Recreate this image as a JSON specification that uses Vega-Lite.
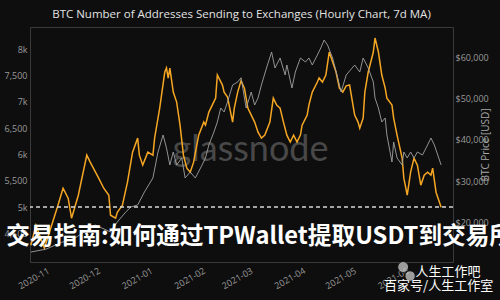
{
  "$schema": "https://vega.github.io/schema/vega-lite/v6.json",
  "width": 423,
  "height": 235,
  "autosize": {"type": "none"},
  "padding": {"left": 30, "top": 27, "right": 47, "bottom": 38},
  "background": "#0e0e0e",
  "title": {"text": "BTC Number of Addresses Sending to Exchanges (Hourly Chart, 7d MA)", "color": "#e2e2e2", "fontSize": 11.5, "font": "Open Sans", "fontWeight": "normal", "offset": 7, "anchor": "middle"},
  "config": {
    "view": {"stroke": "#3a3a3a"},
    "axis": {"grid": false, "ticks": false, "domain": false, "labelColor": "#9a9a9a", "labelFont": "Open Sans", "labelFontSize": 9}
  },
  "datasets": {
    "addr": [
      {"date": "2020-10-23", "addresses": 4274},
      {"date": "2020-10-26", "addresses": 4654},
      {"date": "2020-10-31", "addresses": 4217},
      {"date": "2020-11-08", "addresses": 5034},
      {"date": "2020-11-11", "addresses": 5357},
      {"date": "2020-11-14", "addresses": 5167},
      {"date": "2020-11-16", "addresses": 4787},
      {"date": "2020-11-20", "addresses": 5224},
      {"date": "2020-11-25", "addresses": 5985},
      {"date": "2020-11-27", "addresses": 5852},
      {"date": "2020-12-02", "addresses": 5548},
      {"date": "2020-12-05", "addresses": 5357},
      {"date": "2020-12-08", "addresses": 5224},
      {"date": "2020-12-09", "addresses": 4844},
      {"date": "2020-12-12", "addresses": 4787},
      {"date": "2020-12-13", "addresses": 4900},
      {"date": "2020-12-16", "addresses": 5034},
      {"date": "2020-12-19", "addresses": 5471},
      {"date": "2020-12-22", "addresses": 6042},
      {"date": "2020-12-25", "addresses": 6308},
      {"date": "2020-12-26", "addresses": 5985},
      {"date": "2020-12-28", "addresses": 5795},
      {"date": "2020-12-31", "addresses": 6042},
      {"date": "2021-01-03", "addresses": 5985},
      {"date": "2021-01-04", "addresses": 6308},
      {"date": "2021-01-07", "addresses": 6878},
      {"date": "2021-01-10", "addresses": 7563},
      {"date": "2021-01-11", "addresses": 7639},
      {"date": "2021-01-12", "addresses": 7449},
      {"date": "2021-01-13", "addresses": 7639},
      {"date": "2021-01-15", "addresses": 7182},
      {"date": "2021-01-17", "addresses": 6992},
      {"date": "2021-01-19", "addresses": 6555},
      {"date": "2021-01-21", "addresses": 5985},
      {"date": "2021-01-23", "addresses": 5738},
      {"date": "2021-01-25", "addresses": 5662},
      {"date": "2021-01-27", "addresses": 5852},
      {"date": "2021-01-30", "addresses": 6365},
      {"date": "2021-02-02", "addresses": 6612},
      {"date": "2021-02-03", "addresses": 6555},
      {"date": "2021-02-05", "addresses": 6802},
      {"date": "2021-02-07", "addresses": 6935},
      {"date": "2021-02-09", "addresses": 7068},
      {"date": "2021-02-10", "addresses": 7506},
      {"date": "2021-02-13", "addresses": 7316},
      {"date": "2021-02-14", "addresses": 7182},
      {"date": "2021-02-16", "addresses": 7087},
      {"date": "2021-02-19", "addresses": 6612},
      {"date": "2021-02-20", "addresses": 6878},
      {"date": "2021-02-22", "addresses": 7182},
      {"date": "2021-02-24", "addresses": 7400},
      {"date": "2021-02-26", "addresses": 7250},
      {"date": "2021-02-28", "addresses": 6878},
      {"date": "2021-03-02", "addresses": 6745},
      {"date": "2021-03-04", "addresses": 6612},
      {"date": "2021-03-06", "addresses": 6422},
      {"date": "2021-03-08", "addresses": 6308},
      {"date": "2021-03-10", "addresses": 6365},
      {"date": "2021-03-13", "addresses": 6612},
      {"date": "2021-03-15", "addresses": 7068},
      {"date": "2021-03-17", "addresses": 6935},
      {"date": "2021-03-19", "addresses": 6878},
      {"date": "2021-03-21", "addresses": 6612},
      {"date": "2021-03-23", "addresses": 6365},
      {"date": "2021-03-25", "addresses": 6232},
      {"date": "2021-03-27", "addresses": 6365},
      {"date": "2021-03-29", "addresses": 6232},
      {"date": "2021-03-31", "addresses": 6365},
      {"date": "2021-04-01", "addresses": 6555},
      {"date": "2021-04-04", "addresses": 6745},
      {"date": "2021-04-05", "addresses": 6935},
      {"date": "2021-04-07", "addresses": 7182},
      {"date": "2021-04-10", "addresses": 7373},
      {"date": "2021-04-11", "addresses": 7449},
      {"date": "2021-04-13", "addresses": 7373},
      {"date": "2021-04-15", "addresses": 7506},
      {"date": "2021-04-17", "addresses": 7943},
      {"date": "2021-04-19", "addresses": 7753},
      {"date": "2021-04-21", "addresses": 7563},
      {"date": "2021-04-23", "addresses": 7259},
      {"date": "2021-04-25", "addresses": 7182},
      {"date": "2021-04-27", "addresses": 7300},
      {"date": "2021-04-29", "addresses": 7316},
      {"date": "2021-05-02", "addresses": 6745},
      {"date": "2021-05-04", "addresses": 6612},
      {"date": "2021-05-05", "addresses": 6498},
      {"date": "2021-05-07", "addresses": 6688},
      {"date": "2021-05-08", "addresses": 7182},
      {"date": "2021-05-10", "addresses": 7563},
      {"date": "2021-05-13", "addresses": 7943},
      {"date": "2021-05-14", "addresses": 8209},
      {"date": "2021-05-16", "addresses": 7943},
      {"date": "2021-05-18", "addresses": 7506},
      {"date": "2021-05-20", "addresses": 7259},
      {"date": "2021-05-21", "addresses": 7068},
      {"date": "2021-05-24", "addresses": 6935},
      {"date": "2021-05-25", "addresses": 6688},
      {"date": "2021-05-27", "addresses": 6365},
      {"date": "2021-05-30", "addresses": 5928},
      {"date": "2021-05-31", "addresses": 5548},
      {"date": "2021-06-02", "addresses": 5224},
      {"date": "2021-06-04", "addresses": 5662},
      {"date": "2021-06-06", "addresses": 5928},
      {"date": "2021-06-08", "addresses": 5795},
      {"date": "2021-06-10", "addresses": 5414},
      {"date": "2021-06-12", "addresses": 5605},
      {"date": "2021-06-14", "addresses": 5662},
      {"date": "2021-06-16", "addresses": 5605},
      {"date": "2021-06-17", "addresses": 5738},
      {"date": "2021-06-19", "addresses": 5281},
      {"date": "2021-06-21", "addresses": 5091},
      {"date": "2021-06-22", "addresses": 4996}
    ],
    "price": [
      {"date": "2020-10-23", "price": 13000},
      {"date": "2020-11-01", "price": 13700},
      {"date": "2020-11-10", "price": 15300},
      {"date": "2020-11-18", "price": 16386},
      {"date": "2020-11-30", "price": 19518},
      {"date": "2020-12-09", "price": 17831},
      {"date": "2020-12-13", "price": 20241},
      {"date": "2020-12-18", "price": 22650},
      {"date": "2020-12-21", "price": 23855},
      {"date": "2020-12-25", "price": 24337},
      {"date": "2020-12-29", "price": 27470},
      {"date": "2021-01-03", "price": 30843},
      {"date": "2021-01-06", "price": 37108},
      {"date": "2021-01-09", "price": 41205},
      {"date": "2021-01-11", "price": 38072},
      {"date": "2021-01-13", "price": 33976},
      {"date": "2021-01-15", "price": 37108},
      {"date": "2021-01-17", "price": 33976},
      {"date": "2021-01-20", "price": 35663},
      {"date": "2021-01-22", "price": 30843},
      {"date": "2021-01-25", "price": 32289},
      {"date": "2021-01-28", "price": 30843},
      {"date": "2021-02-01", "price": 33976},
      {"date": "2021-02-03", "price": 35663},
      {"date": "2021-02-05", "price": 38795},
      {"date": "2021-02-08", "price": 41928},
      {"date": "2021-02-10", "price": 44337},
      {"date": "2021-02-12", "price": 47711},
      {"date": "2021-02-14", "price": 46747},
      {"date": "2021-02-16", "price": 49157},
      {"date": "2021-02-19", "price": 53253},
      {"date": "2021-02-22", "price": 53976},
      {"date": "2021-02-24", "price": 55000},
      {"date": "2021-02-27", "price": 47711},
      {"date": "2021-03-02", "price": 51566},
      {"date": "2021-03-04", "price": 48434},
      {"date": "2021-03-06", "price": 50120},
      {"date": "2021-03-08", "price": 53253},
      {"date": "2021-03-11", "price": 57349},
      {"date": "2021-03-14", "price": 61205},
      {"date": "2021-03-16", "price": 57349},
      {"date": "2021-03-19", "price": 59759},
      {"date": "2021-03-22", "price": 55663},
      {"date": "2021-03-23", "price": 58072},
      {"date": "2021-03-26", "price": 52530},
      {"date": "2021-03-28", "price": 56386},
      {"date": "2021-03-31", "price": 59759},
      {"date": "2021-04-03", "price": 58795},
      {"date": "2021-04-05", "price": 59759},
      {"date": "2021-04-07", "price": 58072},
      {"date": "2021-04-10", "price": 60482},
      {"date": "2021-04-12", "price": 62169},
      {"date": "2021-04-14", "price": 64096},
      {"date": "2021-04-16", "price": 62892},
      {"date": "2021-04-19", "price": 59759},
      {"date": "2021-04-22", "price": 54940},
      {"date": "2021-04-24", "price": 51566},
      {"date": "2021-04-27", "price": 55663},
      {"date": "2021-05-02", "price": 58072},
      {"date": "2021-05-05", "price": 56386},
      {"date": "2021-05-07", "price": 59759},
      {"date": "2021-05-10", "price": 57349},
      {"date": "2021-05-13", "price": 53976},
      {"date": "2021-05-14", "price": 50120},
      {"date": "2021-05-16", "price": 47711},
      {"date": "2021-05-18", "price": 44337},
      {"date": "2021-05-20", "price": 45301},
      {"date": "2021-05-21", "price": 41205},
      {"date": "2021-05-24", "price": 34699},
      {"date": "2021-05-25", "price": 39518},
      {"date": "2021-05-27", "price": 35663},
      {"date": "2021-05-30", "price": 33976},
      {"date": "2021-05-31", "price": 37108},
      {"date": "2021-06-02", "price": 35663},
      {"date": "2021-06-04", "price": 37108},
      {"date": "2021-06-06", "price": 35663},
      {"date": "2021-06-08", "price": 37108},
      {"date": "2021-06-11", "price": 36386},
      {"date": "2021-06-14", "price": 38795},
      {"date": "2021-06-16", "price": 40482},
      {"date": "2021-06-18", "price": 38795},
      {"date": "2021-06-20", "price": 36386},
      {"date": "2021-06-22", "price": 33976}
    ]
  },
  "layer": [
    {
      "data": {"values": [{"label": "glassnode"}]},
      "mark": {"type": "text", "font": "Lato", "fontSize": 36, "color": "#5c5c5c", "opacity": 0.75, "align": "center", "baseline": "middle"},
      "encoding": {
        "text": {"field": "label"},
        "x": {"datum": {"year": 2021, "month": 3, "date": 1, "hours": 14}, "type": "temporal"},
        "y": {"datum": 6082, "type": "quantitative", "scale": {"domain": [3956, 8418], "nice": false, "zero": false}, "axis": null}
      }
    },
    {
      "data": {"name": "addr"},
      "mark": {"type": "line", "color": "#f5a623", "strokeWidth": 1.5},
      "encoding": {
        "x": {"field": "date", "type": "temporal",
              "scale": {"domain": [{"year": 2020, "month": 10, "date": 22, "hours": 12}, {"year": 2021, "month": 6, "date": 29}]},
              "axis": {"title": null, "format": "%Y-%m", "tickCount": {"interval": "month", "step": 1}, "labelAngle": -30, "labelAlign": "right", "labelBaseline": "top", "labelPadding": 4, "labelFontSize": 9}},
        "y": {"field": "addresses", "type": "quantitative",
              "scale": {"domain": [3956, 8418], "nice": false, "zero": false},
              "axis": {"orient": "left", "title": null, "values": [4500, 5000, 5500, 6000, 6500, 7000, 7500, 8000], "labelExpr": "datum.value % 1000 === 0 ? (datum.value / 1000) + 'k' : format(datum.value, ',')", "labelPadding": 3}}
      }
    },
    {
      "data": {"name": "price"},
      "mark": {"type": "line", "color": "#a0a0a0", "strokeWidth": 1, "opacity": 0.9},
      "encoding": {
        "x": {"field": "date", "type": "temporal"},
        "y": {"field": "price", "type": "quantitative",
              "scale": {"domain": [10600, 67230], "nice": false, "zero": false},
              "axis": {"orient": "right", "title": "BTC Price [USD]", "titleColor": "#a8a8a8", "titleFont": "Open Sans", "titleFontSize": 10, "titleFontWeight": "normal", "titleAngle": 270, "titlePadding": 2, "values": [20000, 30000, 40000, 50000, 60000], "format": "$,d", "labelPadding": 2}}
      }
    },
    {
      "data": {"values": [{"level": 5000}]},
      "mark": {"type": "rule", "color": "#d8d8d8", "strokeWidth": 1.5, "strokeDash": [4, 3]},
      "encoding": {
        "y": {"field": "level", "type": "quantitative", "scale": {"domain": [3956, 8418], "nice": false, "zero": false}, "axis": null}
      }
    },
    {
      "data": {"values": [{"label": "交易指南:如何通过TPWallet提取USDT到交易所"}]},
      "mark": {"type": "text", "font": "Noto Sans CJK SC", "fontWeight": "bold", "fontSize": 23.7, "color": "#ffffff", "align": "center", "baseline": "middle"},
      "encoding": {
        "text": {"field": "label"},
        "x": {"datum": {"year": 2021, "month": 3, "date": 7}, "type": "temporal"},
        "y": {"datum": 4431, "type": "quantitative", "scale": {"domain": [3956, 8418], "nice": false, "zero": false}, "axis": null}
      }
    },
    {
      "data": {"values": [{"icon": "a"}]},
      "mark": {"type": "point", "shape": "circle", "filled": true, "color": "#d8d8d8", "size": 120, "stroke": "#0e0e0e", "strokeWidth": 1},
      "encoding": {
        "x": {"datum": {"year": 2021, "month": 5, "date": 30, "hours": 14}, "type": "temporal"},
        "y": {"datum": 3861, "type": "quantitative", "scale": {"domain": [3956, 8418], "nice": false, "zero": false}, "axis": null}
      }
    },
    {
      "data": {"values": [{"icon": "b"}]},
      "mark": {"type": "point", "shape": "circle", "filled": true, "color": "#d8d8d8", "size": 110, "stroke": "#0e0e0e", "strokeWidth": 1},
      "encoding": {
        "x": {"datum": {"year": 2021, "month": 6, "date": 3, "hours": 17}, "type": "temporal"},
        "y": {"datum": 3690, "type": "quantitative", "scale": {"domain": [3956, 8418], "nice": false, "zero": false}, "axis": null}
      }
    },
    {
      "data": {"values": [{"label": "人生工作吧"}]},
      "mark": {"type": "text", "font": "Noto Sans CJK SC", "fontSize": 13, "color": "#ffffff", "align": "center", "baseline": "middle"},
      "encoding": {
        "text": {"field": "label"},
        "x": {"datum": {"year": 2021, "month": 6, "date": 26}, "type": "temporal"},
        "y": {"datum": 3766, "type": "quantitative", "scale": {"domain": [3956, 8418], "nice": false, "zero": false}, "axis": null}
      }
    },
    {
      "data": {"values": [{"label": "百家号/人生工作室"}]},
      "mark": {"type": "text", "font": "Noto Sans CJK SC", "fontSize": 13, "color": "#ffffff", "align": "center", "baseline": "middle"},
      "encoding": {
        "text": {"field": "label"},
        "x": {"datum": {"year": 2021, "month": 6, "date": 20, "hours": 12}, "type": "temporal"},
        "y": {"datum": 3500, "type": "quantitative", "scale": {"domain": [3956, 8418], "nice": false, "zero": false}, "axis": null}
      }
    }
  ],
  "resolve": {"scale": {"y": "independent"}}
}
